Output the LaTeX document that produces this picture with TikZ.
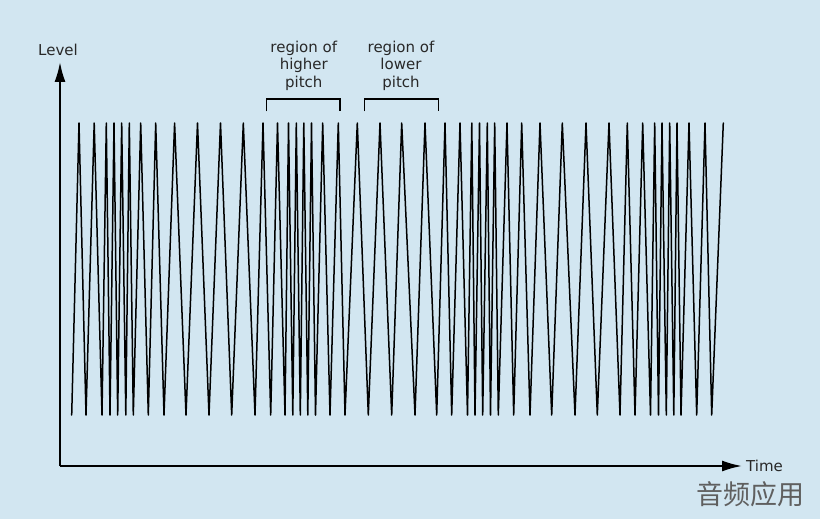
\documentclass[tikz,border=0pt]{standalone}
\usepackage{fontspec}
\setmainfont{DejaVu Sans}
\newfontfamily\cjk{Noto Sans CJK SC}
\usetikzlibrary{arrows.meta}
\definecolor{bgblue}{RGB}{210,230,241}
\definecolor{txtgray}{RGB}{40,40,40}
\definecolor{wmgray}{RGB}{95,95,95}
\tikzset{
  axisline/.style={line width=2pt,-{Latex[length=20pt,width=11pt]}},
  waveline/.style={line width=1.5pt,line join=round,line cap=round},
  bracketline/.style={line width=1.2pt},
  lbl/.style={font=\fontsize{15}{17.5}\selectfont,text=txtgray,inner sep=0pt},
  regionlbl/.style={lbl,align=center}
}
\begin{document}
\begin{tikzpicture}[x=1pt,y=-1pt]
\fill[bgblue] (0,0) rectangle (820,519);
\useasboundingbox (0,0) rectangle (820,519);
% axes
\coordinate (O) at (60,466);
\coordinate (ytip) at (60,62);
\coordinate (xtip) at (742,466);
\draw[axisline] (O) -- (ytip);
\draw[axisline] (O) -- (xtip);
\node[lbl] (level) at (58,50) {Level};
\node[lbl,anchor=west] (time) at (746,466) {Time};
% wave
\draw[waveline] plot coordinates {
(71.7,415) (79,123) (86,415) (94.2,123) (102,415) (106.3,123) (110,415) (114,123)
(117.7,415) (121.7,123) (125.8,415) (129.3,123) (133.3,415) (140.7,123) (148.3,415)
(155.7,123) (164,415) (174.6,123) (186,415) (197.5,123) (209,415) (220.5,123)
(231.7,415) (243.3,123) (255,415) (263,123) (270.7,415) (277.5,123) (285,415)
(288.5,123) (292.8,415) (296.3,123) (300.3,415) (303.8,123) (307.8,415) (311.5,123)
(315.5,415) (322.7,123) (330,415) (338.3,123) (345,415) (357.3,123) (368.3,415)
(380,123) (391.7,415) (401.7,123) (415,415) (425,123) (436.7,415) (445,123)
(451.7,415) (460,123) (467.5,415) (471.8,123) (475,415) (479.5,123) (482.7,415)
(487.3,123) (490.5,415) (494.7,123) (498.3,415) (507,123) (513.7,415) (521.7,123)
(530,415) (540,123) (551.7,415) (562.3,123) (575,415) (586,123) (597.3,415)
(609,123) (620,415) (627.3,123) (635,415) (642.7,123) (650.5,415) (654.7,123)
(658.5,415) (662,123) (666.3,415) (669.7,123) (673.8,415) (677,123) (681,415)
(689,123) (696.7,415) (705,123) (711.7,415) (723.3,123)
};
% region brackets
\draw[bracketline] (266.7,111.5) -- (266.7,99) -- (340,99) -- (340,111.5);
\draw[bracketline] (364.3,111.5) -- (364.3,99) -- (438.3,99) -- (438.3,111.5);
\node[regionlbl] (higher) at (303.8,65.5) {region of\\higher\\pitch};
\node[regionlbl] (lower) at (401,65.5) {region of\\lower\\pitch};
% watermark
\node[font=\cjk\fontsize{27}{30}\selectfont,text=wmgray,inner sep=0pt] (wm) at (750,494) {音频应用};
\end{tikzpicture}
\end{document}
